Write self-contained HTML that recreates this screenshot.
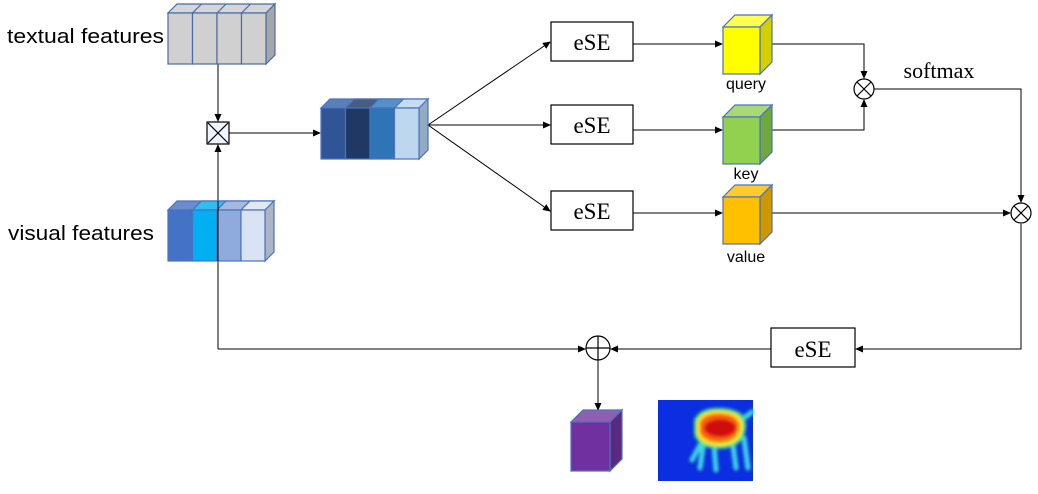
<!DOCTYPE html>
<html><head><meta charset="utf-8"><style>body{margin:0;background:#fff}svg{display:block}</style></head>
<body>
<svg width="1038" height="494" viewBox="0 0 1038 494" xmlns="http://www.w3.org/2000/svg">
<defs>
<marker id="a" markerWidth="8" markerHeight="8" refX="7" refY="4" orient="auto" markerUnits="userSpaceOnUse"><path d="M0,0.5 L8,4 L0,7.5z" fill="#000"/></marker>
<filter id="bl"><feGaussianBlur stdDeviation="1.5"/></filter>
</defs>
<g font-family="Liberation Sans, sans-serif" font-size="20" fill="#000">
<text x="7" y="43" textLength="157" lengthAdjust="spacingAndGlyphs">textual features</text>
<text x="8" y="240" textLength="146" lengthAdjust="spacingAndGlyphs">visual features</text>
</g>
<g stroke="#000" stroke-width="1" fill="none">
<line x1="218" y1="64" x2="218" y2="121" marker-end="url(#a)"/>
<line x1="218" y1="349" x2="218" y2="145" marker-end="url(#a)"/>
<line x1="229" y1="133" x2="320" y2="133" marker-end="url(#a)"/>
<line x1="428" y1="125" x2="550" y2="42" marker-end="url(#a)"/>
<line x1="428" y1="125" x2="550" y2="125" marker-end="url(#a)"/>
<line x1="428" y1="125" x2="550" y2="211" marker-end="url(#a)"/>
<line x1="633" y1="44" x2="722" y2="44" marker-end="url(#a)"/>
<line x1="633" y1="130" x2="722" y2="130" marker-end="url(#a)"/>
<line x1="633" y1="213" x2="722" y2="213" marker-end="url(#a)"/>
<polyline points="772,44 864,44 864,78" marker-end="url(#a)"/>
<polyline points="772,130 864,130 864,100" marker-end="url(#a)"/>
<polyline points="874,89 1021,89 1021,202" marker-end="url(#a)"/>
<line x1="772" y1="213" x2="1010" y2="213" marker-end="url(#a)"/>
<polyline points="1021,224 1021,349 856,349" marker-end="url(#a)"/>
<line x1="771" y1="349" x2="611" y2="349" marker-end="url(#a)"/>
<line x1="218" y1="349" x2="585" y2="349" marker-end="url(#a)"/>
<line x1="598" y1="360" x2="598" y2="410" marker-end="url(#a)"/>
</g>
<g stroke="#4a6aa8" stroke-width="1.2">
<polygon points="168,13 177,4 275,4 266,13" fill="#d6d6d6"/>
<polygon points="266,13 275,4 275,55 266,64" fill="#a6a6a6"/>
<rect x="168" y="13" width="24.5" height="51" fill="#d0d0d0"/><rect x="192.5" y="13" width="24.5" height="51" fill="#d0d0d0"/><rect x="217" y="13" width="24.5" height="51" fill="#d0d0d0"/><rect x="241.5" y="13" width="24.5" height="51" fill="#d0d0d0"/>
<line x1="192.5" y1="13" x2="201.5" y2="4"/><line x1="217" y1="13" x2="226" y2="4"/><line x1="241.5" y1="13" x2="250.5" y2="4"/>
</g>
<g stroke="#4a72c0" stroke-width="1.2">
<polygon points="321,108 330,99 428,99 419,108" fill="#5b7fb8"/>
<polygon points="345.5,108 354.5,99 379,99 370,108" fill="#4a5c80"/>
<polygon points="370,108 379,99 403.5,99 394.5,108" fill="#5590c8"/>
<polygon points="394.5,108 403.5,99 428,99 419,108" fill="#c8dcf0"/>
<polygon points="419,108 428,99 428,150 419,159" fill="#94aac4"/>
<rect x="321" y="108" width="24.5" height="51" fill="#2F5597"/><rect x="345.5" y="108" width="24.5" height="51" fill="#203864"/><rect x="370" y="108" width="24.5" height="51" fill="#2E75B6"/><rect x="394.5" y="108" width="24.5" height="51" fill="#BDD7EE"/>
</g>
<g stroke="#4a72c0" stroke-width="1.2">
<polygon points="168,210 177,201 274,201 265,210" fill="#6a8ccc"/>
<polygon points="192.5,210 201.5,201 226,201 217,210" fill="#30bdf0"/>
<polygon points="217,210 226,201 250,201 241,210" fill="#a4b8e0"/>
<polygon points="241,210 250,201 274,201 265,210" fill="#e0e8f4"/>
<polygon points="265,210 274,201 274,252 265,261" fill="#aab4c4"/>
<rect x="168" y="210" width="24.5" height="51" fill="#4472C4"/><rect x="192.5" y="210" width="24.5" height="51" fill="#00B0F0"/><rect x="217" y="210" width="24" height="51" fill="#8FAADC"/><rect x="241" y="210" width="24" height="51" fill="#DAE3F3"/>
</g>
<line x1="218" y1="201" x2="218" y2="261" stroke="#000"/>
<rect x="207" y="122" width="22" height="22" fill="#eef6ff" stroke="#000" stroke-width="1.2"/>
<path d="M208,123 L228,143 M228,123 L208,143" stroke="#000" stroke-width="1.2"/>
<g fill="#fff" stroke="#000" stroke-width="1.2">
<rect x="551" y="22" width="82" height="39"/><rect x="551" y="105" width="82" height="39"/><rect x="551" y="191" width="82" height="39"/><rect x="771" y="328" width="84" height="39"/>
</g>
<g font-family="Liberation Serif, serif" font-size="23" text-anchor="middle">
<text x="592" y="50">eSE</text><text x="592" y="133">eSE</text><text x="592" y="219">eSE</text><text x="813" y="357">eSE</text>
<text x="939" y="78" font-size="22">softmax</text>
</g>
<g stroke="#4a72c0" stroke-width="1.2">
<polygon points="723,27 735,15 772,15 760,27" fill="#ffff50"/><polygon points="760,27 772,15 772,62 760,74" fill="#d4d000"/><rect x="723" y="27" width="37" height="47" fill="#ffff00"/>
<polygon points="723,117 735,105 772,105 760,117" fill="#a8d878"/><polygon points="760,117 772,105 772,152 760,164" fill="#70a840"/><rect x="723" y="117" width="37" height="47" fill="#92d050"/>
<polygon points="723,197 735,185 772,185 760,197" fill="#ffca30"/><polygon points="760,197 772,185 772,232 760,244" fill="#d09800"/><rect x="723" y="197" width="37" height="47" fill="#ffc000"/>
<polygon points="571,422 583,410 622,410 610,422" fill="#9060b0"/><polygon points="610,422 622,410 622,459 610,471" fill="#5a2a80"/><rect x="571" y="422" width="39" height="49" fill="#7030a0"/>
</g>
<g font-family="Liberation Sans, sans-serif" font-size="16" text-anchor="middle">
<text x="746" y="89">query</text><text x="746" y="179">key</text><text x="746" y="262">value</text>
</g>
<g fill="#fff" stroke="#000" stroke-width="1.2">
<circle cx="864" cy="89" r="10"/><path d="M857,82 L871,96 M871,82 L857,96"/>
<circle cx="1021" cy="213" r="10"/><path d="M1014,206 L1028,220 M1028,206 L1014,220"/>
<circle cx="598" cy="348" r="12"/><path d="M586,348 H610 M598,336 V360"/>
</g>
<!-- heatmap -->
<rect x="658" y="400" width="95" height="81" fill="#0a2ee0"/>
<g filter="url(#bl)">
<g stroke="#40d8e0" stroke-width="5" stroke-linecap="round" fill="none">
<path d="M704,440 L700,468"/><path d="M714,445 L716,470"/><path d="M733,445 L736,468"/><path d="M744,438 L748,468"/><path d="M744,418 L752,412"/><path d="M700,445 L692,460"/>
</g>
<path d="M694,420 Q700,406 724,408 Q748,410 746,428 Q744,448 720,449 Q698,449 694,434 Z" fill="#40e080"/>
<path d="M697,421 Q703,409 724,411 Q744,413 743,428 Q741,445 720,446 Q700,446 697,433 Z" fill="#ffe020"/>
<path d="M700,422 Q706,412 724,414 Q740,416 739,428 Q737,441 720,442 Q703,442 700,432 Z" fill="#ff6010"/>
<ellipse cx="720" cy="428" rx="16" ry="9" fill="#d01010"/>
</g>
</svg>
</body></html>
